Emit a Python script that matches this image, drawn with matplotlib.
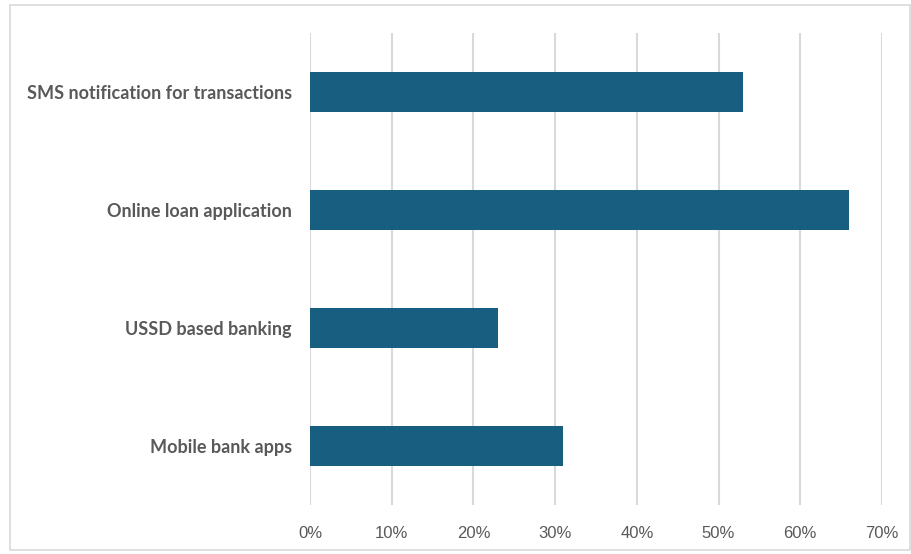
import matplotlib
matplotlib.use("Agg")
import matplotlib.pyplot as plt
from matplotlib.patches import Rectangle
from matplotlib.ticker import FuncFormatter

categories = ["SMS notification for transactions", "Online loan application",
              "USSD based banking", "Mobile bank apps"]
values = [0.53, 0.66, 0.23, 0.31]
xticks = [0, 0.1, 0.2, 0.3, 0.4, 0.5, 0.6, 0.7]

W, H = 912, 554
fig = plt.figure(figsize=(W / 100, H / 100), dpi=100)
fig.patch.set_facecolor("white")
fig.add_artist(Rectangle((10 / W, 4 / H), 900 / W, 545 / H, transform=fig.transFigure,
                         fill=False, edgecolor="#d9d9d9", linewidth=1.2))

ax = fig.add_axes([310 / W, 1 - 505 / H, (882 - 310) / W, (505 - 33) / H])
ypos = list(range(len(categories)))[::-1]
ax.barh(ypos, values, height=0.34, color="#175E80", zorder=3)
ax.set_xlim(0, 0.7)
ax.set_ylim(-0.5, 3.5)
ax.set_xticks(xticks)
ax.xaxis.set_major_formatter(FuncFormatter(lambda v, p: f"{round(v*100)}%"))
ax.set_yticks(ypos)
ax.set_yticklabels(categories, fontweight="bold", fontsize=13, color="#595959", family="Lato")
ax.grid(axis="x", color="#d9d9d9", linewidth=1.5, zorder=0)
for s in ax.spines.values():
    s.set_visible(False)
ax.tick_params(axis="both", length=0)
ax.tick_params(axis="y", pad=13)
ax.tick_params(axis="x", pad=15, labelsize=12, labelcolor="#595959")
for lab in ax.get_xticklabels():
    lab.set_family("Liberation Sans")

fig.savefig("out.png", dpi=100)
